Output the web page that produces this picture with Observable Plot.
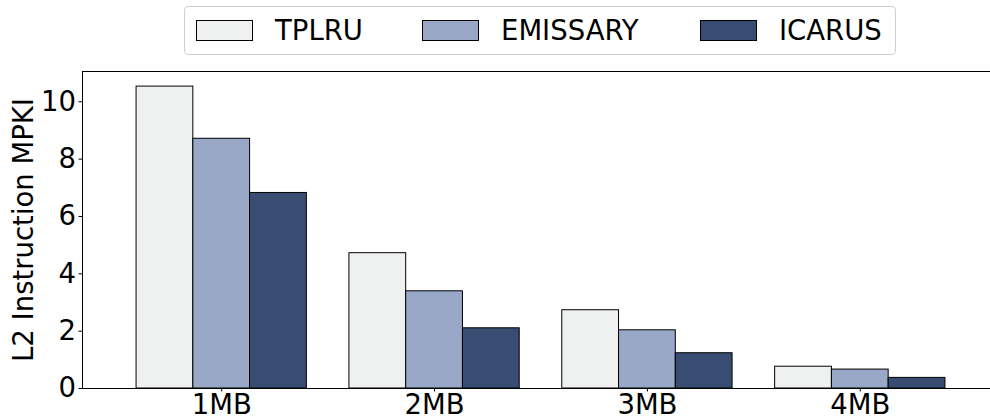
<!DOCTYPE html>
<html>
<head>
<meta charset="utf-8">
<script src="https://cdn.jsdelivr.net/npm/d3@7"></script>
<script src="https://cdn.jsdelivr.net/npm/@observablehq/plot@0.6"></script>
<style>
  html, body { margin: 0; padding: 0; background: #fff; overflow: hidden; }
  #fig { position: relative; width: 990px; height: 419px; font-family: "DejaVu Sans", sans-serif; }
  #legend {
    position: absolute; left: 184px; top: 6px; width: 712px; height: 49px;
    border: 1px solid #cfcfcf; border-radius: 4px; background: #fff;
    box-sizing: border-box; z-index: 2;
  }
  .item { position: absolute; top: 0; height: 47px; display: flex; align-items: center; }
  .sw { width: 55px; height: 19px; border: 1px solid #000; margin-right: 22px; flex: none; }
  .lab { font-size: 27.5px; line-height: 1; color: #000; white-space: nowrap; }
</style>
</head>
<body>
<div id="fig">
  <div id="legend"></div>
  <div id="chart"></div>
</div>
<script>
// Cache sizes on the x axis
const groups = ["1MB", "2MB", "3MB", "4MB"];
// Replacement policies, drawn left to right inside each group
const series = ["TPLRU", "EMISSARY", "ICARUS"];
const colors = ["#eff1f0", "#98a8c6", "#394d72"];
// L2 instruction misses per kilo-instruction, one array per policy
const tplru    = [10.53, 4.72, 2.73, 0.76];
const emissary = [8.71, 3.39, 2.03, 0.66];
const icarus   = [6.82, 2.10, 1.23, 0.37];
const yTicks = [0, 2, 4, 6, 8, 10];

const values = [tplru, emissary, icarus];
const groupWidth = 0.8;
const barWidth = groupWidth / series.length;

const rows = [];
groups.forEach((g, i) => {
  series.forEach((s, j) => {
    const x1 = i - groupWidth / 2 + j * barWidth;
    rows.push({group: g, series: s, x1, x2: x1 + barWidth, value: values[j][i]});
  });
});

const yMax = d3.max(rows, d => d.value) * 1.05;

const chart = Plot.plot({
  width: 990,
  height: 419,
  marginLeft: 82,
  marginRight: -9,
  marginTop: 71,
  marginBottom: 31,
  style: {fontFamily: "DejaVu Sans, sans-serif", fontSize: "27.5px", color: "#000", background: "#fff"},
  x: {
    domain: [-0.654, groups.length - 1 + 0.654],
    ticks: groups.map((_, i) => i),
    tickFormat: i => groups[i],
    tickSize: 3.5,
    tickPadding: 2.5,
    label: null
  },
  y: {
    domain: [0, yMax],
    ticks: yTicks,
    tickFormat: d => String(d),
    tickSize: 3.5,
    tickPadding: 3,
    label: null
  },
  color: {domain: series, range: colors},
  marks: [
    Plot.rectY(rows, {x1: "x1", x2: "x2", y: "value", fill: "series", stroke: "#000", strokeWidth: 1}),
    Plot.frame({stroke: "#000", strokeWidth: 1}),
    Plot.text(["L2 Instruction MPKI"], {
      frameAnchor: "left", rotate: -90, dx: -50, lineAnchor: "bottom",
      textAnchor: "middle", fontSize: 27.5, fill: "#000"
    })
  ]
});
document.getElementById("chart").appendChild(chart);

// Legend: one column per policy, framed in a rounded box above the axes
const columnLeft = [11, 237, 515];
const legend = d3.select("#legend");
series.forEach((s, j) => {
  const item = legend.append("div").attr("class", "item").style("left", columnLeft[j] + "px");
  item.append("div").attr("class", "sw").style("background", colors[j]);
  item.append("div").attr("class", "lab").text(s);
});
</script>
</body>
</html>
